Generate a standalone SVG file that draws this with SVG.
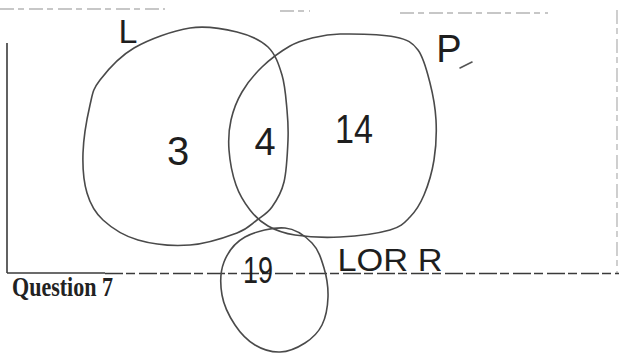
<svg xmlns="http://www.w3.org/2000/svg" width="619" height="354" viewBox="0 0 619 354">
<style>
.set{fill:none;stroke:#4a4a4a;stroke-width:1.6;stroke-linejoin:round}
.hand{font-family:"Liberation Sans","DejaVu Sans",sans-serif;fill:#1e1e1e;text-anchor:middle}
.frame{stroke:#3a3a3a;stroke-width:1.6;fill:none}
.faint{stroke:#b5b5b5;stroke-width:1.3;fill:none;stroke-dasharray:14 4 6 5}
</style>
<rect width="619" height="354" fill="#ffffff"/>
<g id="frame">
<line class="faint" x1="0" y1="9" x2="165" y2="9"/>
<line class="faint" x1="280" y1="11" x2="310" y2="11"/>
<line class="faint" x1="400" y1="13" x2="548" y2="13"/>
<line class="faint" x1="617" y1="10" x2="617" y2="273"/>
<line class="frame" x1="7" y1="43" x2="7" y2="273"/>
<line class="frame" x1="7" y1="273" x2="105" y2="273"/>
<line class="frame" x1="105" y1="273.5" x2="619" y2="273.5" stroke-dasharray="18 3 9 4" stroke="#666"/>
<text x="12" y="296" font-family="Liberation Serif,serif" font-weight="bold" font-size="27" fill="#222" textLength="101" lengthAdjust="spacingAndGlyphs">Question 7</text>
</g>
<g id="set-L">
<path class="set" d="M190,28 C207.2,25.3 224,28.8 237,32 C250,35.2 260.5,39.8 268,47 C275.5,54.2 278.8,64.5 282,75 C285.2,85.5 286,99.2 287,110 C288,120.8 288.5,128 288,140 C287.5,152 286.7,170.8 284,182 C281.3,193.2 276.5,200.7 272,207 C267.5,213.3 262.8,215.7 257,220 C251.2,224.3 248.2,228.8 237,233 C225.8,237.2 206.5,243.8 190,245 C173.5,246.2 152.5,244.2 138,240 C123.5,235.8 111.5,227.8 103,220 C94.5,212.2 90.3,204.2 87,193 C83.7,181.8 82.5,167.7 83,153 C83.5,138.3 87.2,117.2 90,105 C92.8,92.8 92.7,89.5 100,80 C107.3,70.5 119,56.7 134,48 C149,39.3 172.8,30.7 190,28 Z"/>
<text class="hand" x="128" y="43" font-size="34">L</text>
<text class="hand" x="178" y="165" font-size="40">3</text>
</g>
<g id="set-P">
<path class="set" d="M340,34 C353.8,33.8 382,34.3 395,37 C408,39.7 412.2,42.3 418,50 C423.8,57.7 427,71.3 430,83 C433,94.7 435.3,107.2 436,120 C436.7,132.8 436,147.5 434,160 C432,172.5 428,185.5 424,195 C420,204.5 415.7,211.2 410,217 C404.3,222.8 401.7,226.7 390,230 C378.3,233.3 355.8,236.2 340,237 C324.2,237.8 307,236.8 295,235 C283,233.2 275.5,230.2 268,226 C260.5,221.8 255.3,216.8 250,210 C244.7,203.2 239.5,195 236,185 C232.5,175 229.8,160.8 229,150 C228.2,139.2 228.8,129.7 231,120 C233.2,110.3 236.8,100.8 242,92 C247.2,83.2 254,74.7 262,67 C270,59.3 281.7,50.8 290,46 C298.3,41.2 303.7,40 312,38 C320.3,36 326.2,34.2 340,34 Z"/>
<text class="hand" x="449" y="62" font-size="38">P</text>
<line x1="460" y1="68" x2="472" y2="62" stroke="#555" stroke-width="1.6" stroke-linecap="round"/>
<text class="hand" x="354" y="143" font-size="40" textLength="38" lengthAdjust="spacingAndGlyphs">14</text>
</g>
<g id="region-LP">
<text class="hand" x="265" y="155" font-size="38">4</text>
</g>
<g id="set-R">
<path class="set" d="M285,228 C296.2,229 305.5,236.3 312,243 C318.5,249.7 321.3,259 324,268 C326.7,277 328.3,287.5 328,297 C327.7,306.5 325.8,317.3 322,325 C318.2,332.7 312,338.5 305,343 C298,347.5 288.3,351.7 280,352 C271.7,352.3 262.5,349.5 255,345 C247.5,340.5 240.5,333.3 235,325 C229.5,316.7 223.8,305.5 222,295 C220.2,284.5 220.2,271.7 224,262 C227.8,252.3 234.8,242.7 245,237 C255.2,231.3 273.8,227 285,228 Z"/>
<text class="hand" x="258" y="283" font-size="36" textLength="30" lengthAdjust="spacingAndGlyphs">19</text>
<text class="hand" x="390" y="271" font-size="32" textLength="105" lengthAdjust="spacingAndGlyphs">LOR R</text>
</g>
<g id="connectors"/>
</svg>
